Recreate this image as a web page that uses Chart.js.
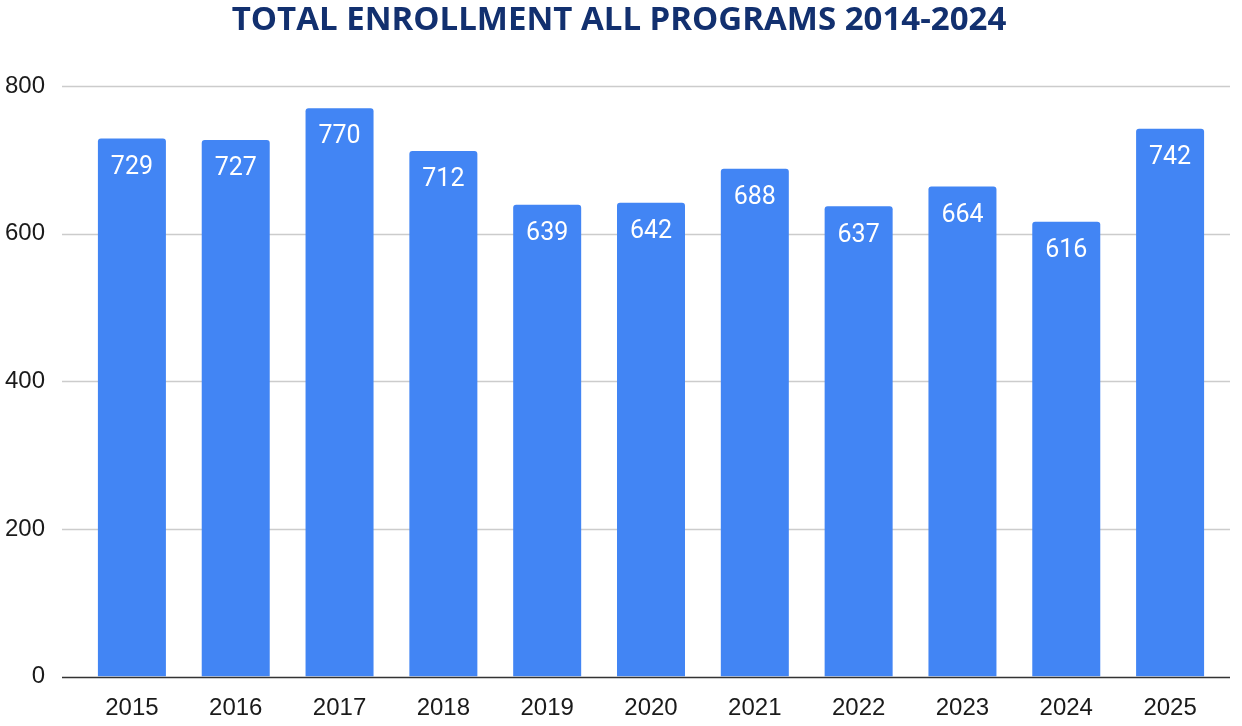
<!DOCTYPE html>
<html>
<head>
<meta charset="utf-8">
<script src="https://cdn.jsdelivr.net/npm/chart.js@4.4.1/dist/chart.umd.min.js"></script>
<style>
  html, body { margin: 0; padding: 0; background: #ffffff; }
  #wrap { width: 1242px; height: 726px; position: relative; }
</style>
</head>
<body>
<div id="wrap"><canvas id="chart" width="1242" height="726"></canvas></div>
<script>
// Enrollment totals per year
const years = ['2015', '2016', '2017', '2018', '2019', '2020', '2021', '2022', '2023', '2024', '2025'];
const enrollment = [729, 727, 770, 712, 639, 642, 688, 637, 664, 616, 742];
const yTicks = [0, 200, 400, 600, 800];
const chartTitle = 'TOTAL ENROLLMENT ALL PROGRAMS 2014-2024';

const GRID_LEFT = 62;
const GRID_RIGHT = 1230;

// Title, wide gridlines, zero baseline and in-bar value labels
const decorPlugin = {
  id: 'decor',
  beforeDatasetsDraw(chart) {
    const { ctx, scales: { y } } = chart;
    ctx.save();
    ctx.strokeStyle = '#cccccc';
    ctx.lineWidth = 1.5;
    yTicks.forEach(v => {
      if (v === 0) return;
      const py = Math.round(y.getPixelForValue(v)) + 0.5;
      ctx.beginPath();
      ctx.moveTo(GRID_LEFT, py);
      ctx.lineTo(GRID_RIGHT, py);
      ctx.stroke();
    });
    ctx.restore();
  },
  afterDatasetsDraw(chart) {
    const { ctx, scales: { y } } = chart;
    ctx.save();
    const py0 = Math.round(y.getPixelForValue(0)) + 0.5;
    ctx.strokeStyle = '#333333';
    ctx.lineWidth = 1.5;
    ctx.beginPath();
    ctx.moveTo(GRID_LEFT, py0);
    ctx.lineTo(GRID_RIGHT, py0);
    ctx.stroke();

    const meta = chart.getDatasetMeta(0);
    ctx.fillStyle = '#ffffff';
    ctx.font = '25px Roboto, "Liberation Sans", sans-serif';
    ctx.textAlign = 'center';
    ctx.textBaseline = 'middle';
    meta.data.forEach((bar, i) => {
      ctx.fillText(String(enrollment[i]), bar.x, bar.y + 29);
    });

    ctx.fillStyle = '#12306f';
    ctx.font = 'bold 33px "Liberation Sans Narrow", "Open Sans", sans-serif';
    ctx.fillText(chartTitle, 619, 21);
    ctx.restore();
  }
};

new Chart(document.getElementById('chart'), {
  type: 'bar',
  data: {
    labels: years,
    datasets: [{
      data: enrollment,
      backgroundColor: '#4285f4',
      borderRadius: { topLeft: 3, topRight: 3, bottomLeft: 0, bottomRight: 0 },
      borderSkipped: 'bottom',
      categoryPercentage: 1.0,
      barPercentage: 0.655
    }]
  },
  options: {
    responsive: false,
    animation: false,
    devicePixelRatio: 1,
    layout: { padding: { left: 0, right: 20, top: 86, bottom: 0 } },
    plugins: {
      legend: { display: false },
      tooltip: { enabled: false },
      title: { display: false }
    },
    scales: {
      x: {
        grid: { display: false, drawTicks: false },
        border: { display: false },
        ticks: {
          color: '#1a1a1a',
          font: { family: '"Liberation Sans", Arial, sans-serif', size: 24 },
          padding: 17,
          maxRotation: 0
        },
        afterFit(scale) { scale.height = 46; }
      },
      y: {
        min: 0,
        max: 800,
        grid: { display: false, drawTicks: false },
        border: { display: false },
        afterBuildTicks(scale) { scale.ticks = yTicks.map(v => ({ value: v })); },
        ticks: {
          color: '#1a1a1a',
          font: { family: '"Liberation Sans", Arial, sans-serif', size: 24 },
          padding: 35
        },
        afterFit(scale) { scale.width = 80; }
      }
    }
  },
  plugins: [decorPlugin]
});
</script>
</body>
</html>
